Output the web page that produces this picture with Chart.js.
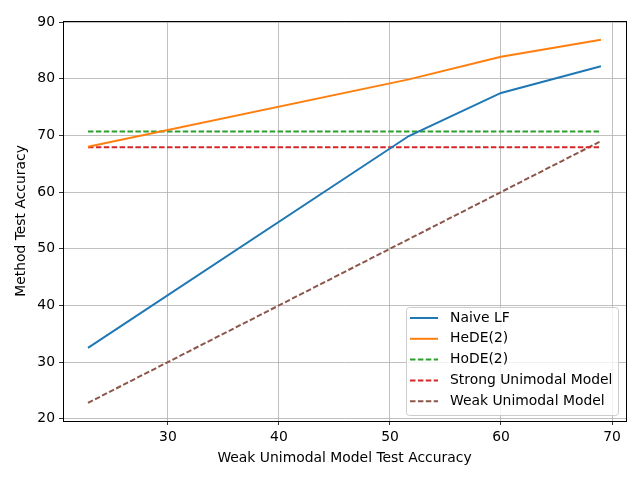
<!DOCTYPE html>
<html lang="en">
<head>
  <meta charset="utf-8" />
  <title>Method vs Weak Unimodal Accuracy</title>
  <script src="https://cdn.jsdelivr.net/npm/chart.js"></script>
  <style>
    html, body { margin: 0; padding: 0; background: #fff; }
    #wrap { width: 640px; height: 480px; }
  </style>
</head>
<body>
  <div id="wrap"><canvas id="accChart" width="640" height="480"></canvas></div>

  <script>
    // values
    const weakAcc = [22.8, 51.7, 60, 69];
    const naiveLF = [32.5, 69.9, 77.5, 82.2];
    const hede2 = [68.0, 79.9, 83.9, 86.9];
    const hode2 = [70.7, 70.7, 70.7, 70.7];
    const strongModel = [67.9, 67.9, 67.9, 67.9];
    const weakModel = [22.8, 51.7, 60, 69];

    const xTicks = [30, 40, 50, 60, 70];
    const yTicks = [20, 30, 40, 50, 60, 70, 80, 90];

    const FONT = "'DejaVu Sans', sans-serif";
    const FS = 13.9;
    const dash = [5.5, 2.4];

    const pts = ys => weakAcc.map((x, i) => ({ x: x, y: ys[i] }));

    const series = [
      { label: 'Naive LF', data: naiveLF, color: '#1f77b4', dashed: false },
      { label: 'HeDE(2)', data: hede2, color: '#ff7f0e', dashed: false },
      { label: 'HoDE(2)', data: hode2, color: '#2ca02c', dashed: true },
      { label: 'Strong Unimodal Model', data: strongModel, color: '#d62728', dashed: true },
      { label: 'Weak Unimodal Model', data: weakModel, color: '#8c564b', dashed: true }
    ];

    // full box around the axes, like matplotlib spines
    const frame = {
      id: 'frame',
      afterDatasetsDraw(chart) {
        const { ctx, chartArea: a } = chart;
        ctx.save();
        ctx.strokeStyle = '#000';
        ctx.lineWidth = 1;
        ctx.strokeRect(Math.round(a.left) + 0.5, Math.round(a.top) + 0.5,
          Math.round(a.right - a.left), Math.round(a.bottom - a.top));
        ctx.restore();
      }
    };

    // legend in the lower right corner inside the plot
    const boxLegend = {
      id: 'boxLegend',
      afterDraw(chart) {
        const { ctx, chartArea: a } = chart;
        const w = 212, h = 108;
        const x0 = a.right - 8 - w, y0 = a.bottom - 6 - h;
        ctx.save();
        ctx.fillStyle = 'rgba(255,255,255,0.8)';
        ctx.strokeStyle = '#cccccc';
        ctx.lineWidth = 1;
        ctx.beginPath();
        ctx.roundRect(x0 + 0.5, y0 + 0.5, w, h, 3);
        ctx.fill();
        ctx.stroke();
        ctx.font = FS + 'px ' + FONT;
        ctx.textBaseline = 'middle';
        ctx.textAlign = 'left';
        chart.data.datasets.forEach((ds, i) => {
          const y = y0 + 11 + i * 20.8;
          ctx.strokeStyle = ds.borderColor;
          ctx.lineWidth = 2;
          ctx.setLineDash(ds.borderDash || []);
          ctx.beginPath();
          ctx.moveTo(x0 + 4, y);
          ctx.lineTo(x0 + 32, y);
          ctx.stroke();
          ctx.setLineDash([]);
          ctx.fillStyle = '#000';
          ctx.fillText(ds.label, x0 + 44, y);
        });
        ctx.restore();
      }
    };

    new Chart(document.getElementById('accChart'), {
      type: 'line',
      data: {
        datasets: series.map(s => ({
          label: s.label,
          data: pts(s.data),
          borderColor: s.color,
          backgroundColor: s.color,
          borderWidth: 2,
          borderDash: s.dashed ? dash : [],
          pointRadius: 0,
          tension: 0,
          fill: false
        }))
      },
      options: {
        responsive: false,
        animation: false,
        devicePixelRatio: 1,
        layout: { padding: { top: 21, right: 14, left: 0, bottom: 0 } },
        plugins: {
          legend: { display: false },
          tooltip: { enabled: false }
        },
        scales: {
          x: {
            type: 'linear',
            min: 20.55,
            max: 71.26,
            afterFit: s => { s.height = 59; },
            afterBuildTicks: s => { s.ticks = xTicks.map(v => ({ value: v })); },
            grid: { color: '#b0b0b0', lineWidth: 0.8, tickColor: '#000', tickLength: 4, drawOnChartArea: true },
            border: { display: false },
            ticks: { color: '#000', padding: 4, font: { family: FONT, size: FS } },
            title: {
              display: true,
              text: 'Weak Unimodal Model Test Accuracy',
              color: '#000',
              font: { family: FONT, size: FS },
              padding: { top: 0, bottom: 13 }
            }
          },
          y: {
            type: 'linear',
            min: 19.6,
            max: 90.2,
            afterFit: s => { s.width = 63; },
            afterBuildTicks: s => { s.ticks = yTicks.map(v => ({ value: v })); },
            grid: { color: '#b0b0b0', lineWidth: 0.8, tickColor: '#000', tickLength: 4 },
            border: { display: false },
            ticks: { color: '#000', padding: 4, font: { family: FONT, size: FS } },
            title: {
              display: true,
              text: 'Method Test Accuracy',
              color: '#000',
              font: { family: FONT, size: FS },
              padding: { top: 13, bottom: 0 }
            }
          }
        }
      },
      plugins: [frame, boxLegend]
    });
  </script>
</body>
</html>
